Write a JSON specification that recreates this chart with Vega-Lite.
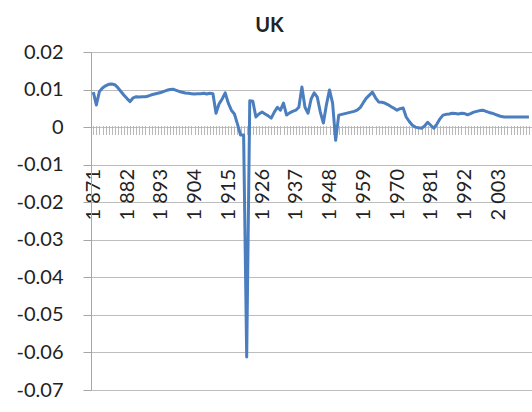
{
  "$schema": "https://vega.github.io/schema/vega-lite/v6.json",
  "autosize": {"type": "none"},
  "padding": {"left": 91, "top": 52, "right": 0, "bottom": 22},
  "width": 441,
  "height": 338,
  "background": "white",
  "title": {"text": "UK", "font": "Lato", "fontSize": 20, "fontWeight": "bold", "color": "#222", "anchor": "middle", "frame": "bounds", "offset": -10, "dx": -8, "baseline": "alphabetic"},
  "config": {"view": {"stroke": null}},
  "data": {"values": [
    {"year":1871,"v":0.0093},{"year":1872,"v":0.0059},{"year":1873,"v":0.0095},{"year":1874,"v":0.0104},{"year":1875,"v":0.011},{"year":1876,"v":0.0114},{"year":1877,"v":0.0115},{"year":1878,"v":0.0113},{"year":1879,"v":0.0105},{"year":1880,"v":0.0095},
    {"year":1881,"v":0.0085},{"year":1882,"v":0.0076},{"year":1883,"v":0.0068},{"year":1884,"v":0.0078},{"year":1885,"v":0.0081},{"year":1886,"v":0.008},{"year":1887,"v":0.0081},{"year":1888,"v":0.0081},{"year":1889,"v":0.0083},{"year":1890,"v":0.0086},
    {"year":1891,"v":0.0088},{"year":1892,"v":0.009},{"year":1893,"v":0.0092},{"year":1894,"v":0.0095},{"year":1895,"v":0.0098},{"year":1896,"v":0.01},{"year":1897,"v":0.0101},{"year":1898,"v":0.0098},{"year":1899,"v":0.0095},{"year":1900,"v":0.0093},
    {"year":1901,"v":0.0091},{"year":1902,"v":0.009},{"year":1903,"v":0.0089},{"year":1904,"v":0.0088},{"year":1905,"v":0.0089},{"year":1906,"v":0.0089},{"year":1907,"v":0.009},{"year":1908,"v":0.0088},{"year":1909,"v":0.009},{"year":1910,"v":0.0089},
    {"year":1911,"v":0.0037},{"year":1912,"v":0.0062},{"year":1913,"v":0.0075},{"year":1914,"v":0.0091},{"year":1915,"v":0.0064},{"year":1916,"v":0.0045},{"year":1917,"v":0.0035},{"year":1918,"v":0.0008},{"year":1919,"v":-0.0021},{"year":1920,"v":-0.0021},
    {"year":1921,"v":-0.0612},{"year":1922,"v":0.007},{"year":1923,"v":0.0069},{"year":1924,"v":0.0027},{"year":1925,"v":0.0035},{"year":1926,"v":0.004},{"year":1927,"v":0.0035},{"year":1928,"v":0.003},{"year":1929,"v":0.0024},{"year":1930,"v":0.004},
    {"year":1931,"v":0.0053},{"year":1932,"v":0.0045},{"year":1933,"v":0.0064},{"year":1934,"v":0.0032},{"year":1935,"v":0.0038},{"year":1936,"v":0.0042},{"year":1937,"v":0.0045},{"year":1938,"v":0.0053},{"year":1939,"v":0.0107},{"year":1940,"v":0.0053},
    {"year":1941,"v":0.0037},{"year":1942,"v":0.0075},{"year":1943,"v":0.0091},{"year":1944,"v":0.008},{"year":1945,"v":0.004},{"year":1946,"v":0.0011},{"year":1947,"v":0.006},{"year":1948,"v":0.0099},{"year":1949,"v":0.0064},{"year":1950,"v":-0.0035},
    {"year":1951,"v":0.0032},{"year":1952,"v":0.0034},{"year":1953,"v":0.0036},{"year":1954,"v":0.0038},{"year":1955,"v":0.004},{"year":1956,"v":0.0042},{"year":1957,"v":0.0045},{"year":1958,"v":0.0052},{"year":1959,"v":0.0065},{"year":1960,"v":0.0077},
    {"year":1961,"v":0.0085},{"year":1962,"v":0.0093},{"year":1963,"v":0.0078},{"year":1964,"v":0.0067},{"year":1965,"v":0.0066},{"year":1966,"v":0.0064},{"year":1967,"v":0.006},{"year":1968,"v":0.0055},{"year":1969,"v":0.005},{"year":1970,"v":0.0045},
    {"year":1971,"v":0.0049},{"year":1972,"v":0.0051},{"year":1973,"v":0.0027},{"year":1974,"v":0.0015},{"year":1975,"v":0.0005},{"year":1976,"v":0.0},{"year":1977,"v":-0.0002},{"year":1978,"v":-0.0003},{"year":1979,"v":0.0003},{"year":1980,"v":0.0013},
    {"year":1981,"v":0.0005},{"year":1982,"v":-0.0003},{"year":1983,"v":0.0008},{"year":1984,"v":0.0022},{"year":1985,"v":0.0032},{"year":1986,"v":0.0034},{"year":1987,"v":0.0035},{"year":1988,"v":0.0037},{"year":1989,"v":0.0036},{"year":1990,"v":0.0035},
    {"year":1991,"v":0.0037},{"year":1992,"v":0.0036},{"year":1993,"v":0.0033},{"year":1994,"v":0.0036},{"year":1995,"v":0.004},{"year":1996,"v":0.0042},{"year":1997,"v":0.0044},{"year":1998,"v":0.0045},{"year":1999,"v":0.0042},{"year":2000,"v":0.0039},
    {"year":2001,"v":0.0037},{"year":2002,"v":0.0034},{"year":2003,"v":0.0031},{"year":2004,"v":0.0028},{"year":2005,"v":0.0027},{"year":2006,"v":0.0027},{"year":2007,"v":0.0027},{"year":2008,"v":0.0027},{"year":2009,"v":0.0027},{"year":2010,"v":0.0027},
    {"year":2011,"v":0.0027},{"year":2012,"v":0.0027},{"year":2013,"v":0.0027}
  ]},
  "mark": {"type": "line", "color": "#4a7ebf", "strokeWidth": 3, "strokeJoin": "round", "clip": false},
  "encoding": {
    "x": {
      "field": "year", "type": "quantitative",
      "scale": {"domain": [1870.25, 2014], "nice": false, "zero": false},
      "axis": {
        "title": null, "orient": "bottom", "offset": -264.5, "grid": false, "domain": false,
        "values": [1871,1872,1873,1874,1875,1876,1877,1878,1879,1880,1881,1882,1883,1884,1885,1886,1887,1888,1889,1890,1891,1892,1893,1894,1895,1896,1897,1898,1899,1900,1901,1902,1903,1904,1905,1906,1907,1908,1909,1910,1911,1912,1913,1914,1915,1916,1917,1918,1919,1920,1921,1922,1923,1924,1925,1926,1927,1928,1929,1930,1931,1932,1933,1934,1935,1936,1937,1938,1939,1940,1941,1942,1943,1944,1945,1946,1947,1948,1949,1950,1951,1952,1953,1954,1955,1956,1957,1958,1959,1960,1961,1962,1963,1964,1965,1966,1967,1968,1969,1970,1971,1972,1973,1974,1975,1976,1977,1978,1979,1980,1981,1982,1983,1984,1985,1986,1987,1988,1989,1990,1991,1992,1993,1994,1995,1996,1997,1998,1999,2000,2001,2002,2003,2004,2005,2006,2007,2008,2009,2010,2011,2012,2013],
        "labelExpr": "(datum.value - 1871) % 11 == 0 ? substring(toString(datum.value), 0, 1) + ' ' + substring(toString(datum.value), 1) : ''",
        "labelAngle": 270, "labelAlign": "right", "labelBaseline": "middle",
        "labelOverlap": false, "labelBound": false, "labelFlush": false,
        "labelFont": "Lato", "labelFontSize": 20, "labelColor": "#222", "labelPadding": 34,
        "tickSize": 9, "tickColor": "#b8b8b8", "tickWidth": 1
      }
    },
    "y": {
      "field": "v", "type": "quantitative",
      "scale": {"domain": [-0.07, 0.02], "nice": false, "zero": false},
      "axis": {
        "title": null, "values": [-0.07,-0.06,-0.05,-0.04,-0.03,-0.02,-0.01,0,0.01,0.02],
        "labelExpr": "datum.value == 0 ? '0' : (datum.value < 0 ? '-' : '') + format(abs(datum.value), '.2f')",
        "grid": true, "gridColor": "#bdbdbd", "gridWidth": 1,
        "domain": true, "domainColor": "#a6a6a6", "domainWidth": 1,
        "tickSize": 8, "tickColor": "#a6a6a6",
        "labelFont": "Lato", "labelFontSize": 20, "labelColor": "#222", "labelPadding": 20
      }
    }
  }
}
